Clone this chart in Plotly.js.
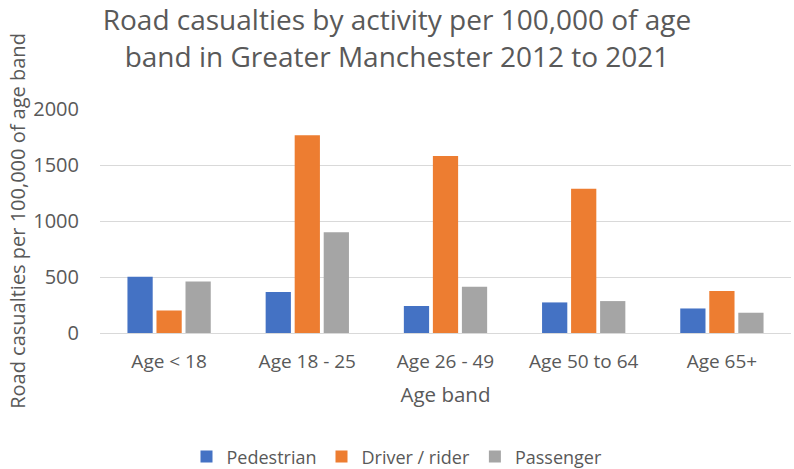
<!DOCTYPE html>
<html>
<head>
<meta charset="utf-8">
<script src="https://cdn.plot.ly/plotly-3.0.1.min.js"></script>
<style>html,body{margin:0;padding:0;background:#fff;}#chart{width:794px;height:469px;}</style>
</head>
<body>
<div id="chart"></div>
<script>
const categories = ["Age < 18", "Age 18 - 25", "Age 26 - 49", "Age 50 to 64", "Age 65+"];
const pedestrian = [502, 365, 241, 273, 219];
const driverRider = [201, 1765, 1581, 1289, 374];
const passenger = [460, 900, 413, 285, 181];
const yTicks = [0, 500, 1000, 1500, 2000];

const FONT = "Open Sans, Noto Sans, sans-serif";
const TXT = "#595959";

const traces = [
  {type: "bar", name: "Pedestrian", x: categories, y: pedestrian, marker: {color: "#4472C4"}},
  {type: "bar", name: "Driver / rider", x: categories, y: driverRider, marker: {color: "#ED7D31"}},
  {type: "bar", name: "Passenger", x: categories, y: passenger, marker: {color: "#A5A5A5"}}
];

const layout = {
  width: 794, height: 469,
  margin: {l: 100, r: 3, t: 109, b: 136},
  paper_bgcolor: "#fff", plot_bgcolor: "#fff",
  font: {family: FONT, color: TXT},
  title: {
    text: "Road casualties by activity per 100,000 of age<br>band in Greater Manchester 2012 to 2021",
    font: {family: FONT, size: 28, color: TXT},
    xref: "container", x: 0.5, xanchor: "center",
    yref: "container", y: 0.935, yanchor: "top"
  },
  barmode: "group",
  bargap: 0.37,
  bargroupgap: 0.13,
  showlegend: true,
  legend: {
    orientation: "h",
    xref: "container", x: 0.5, xanchor: "center",
    yref: "container", y: 0.026, yanchor: "middle",
    font: {family: FONT, size: 18, color: TXT},
    itemwidth: 30, tracegroupgap: 0
  },
  xaxis: {
    type: "category",
    showgrid: false, zeroline: false,
    showline: true, linecolor: "#D9D9D9", linewidth: 1,
    ticks: "outside", ticklen: 11, tickcolor: "rgba(0,0,0,0)",
    tickfont: {family: FONT, size: 19, color: TXT},
    title: {text: "Age band", font: {family: FONT, size: 20.5, color: TXT}, standoff: 14},
    automargin: false
  },
  yaxis: {
    range: [0, 2000],
    tickvals: yTicks, ticktext: yTicks.map(String),
    showgrid: true, gridcolor: "#D9D9D9", gridwidth: 1,
    zeroline: false, showline: false,
    ticks: "outside", ticklen: 16, tickcolor: "rgba(0,0,0,0)",
    tickfont: {family: FONT, size: 20, color: TXT},
    title: {text: "Road casualties per 100,000 of age band", font: {family: FONT, size: 20, color: TXT}, standoff: 2},
    automargin: false
  }
};

Plotly.newPlot("chart", traces, layout, {displayModeBar: false, staticPlot: true});
</script>
</body>
</html>
